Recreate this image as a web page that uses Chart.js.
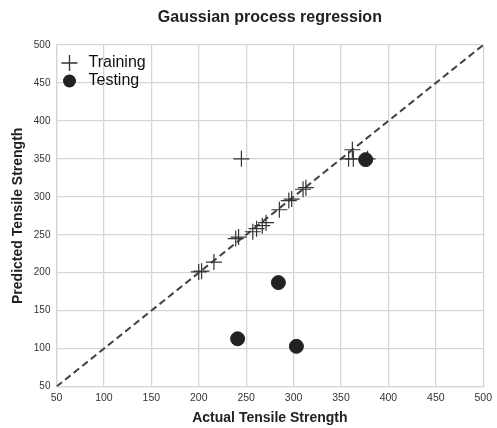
<!DOCTYPE html>
<html>
<head>
<meta charset="utf-8">
<script src="https://cdn.jsdelivr.net/npm/chart.js@4/dist/chart.umd.min.js"></script>
<style>
  html, body { margin: 0; padding: 0; background: #fff; }
  #wrap { width: 497px; height: 428px; }
</style>
</head>
<body>
<div id="wrap"><canvas id="chart" width="497" height="428"></canvas></div>
<script>
// Training set: actual vs predicted
const trainActual    = [200, 203, 216, 239, 242, 257, 261, 267, 271, 285, 295, 298, 310, 313, 245, 358, 362, 363, 378];
const trainPredicted = [201, 202, 214, 245, 247, 254, 258, 262, 266, 283, 295, 297, 310, 312, 350, 350, 362, 350, 350];

// Testing set
const testActual    = [284, 241, 303, 376];
const testPredicted = [187, 113, 103, 349];

// Ideal line y = x
const idealLine = [50, 500];

const tickValues = [50, 100, 150, 200, 250, 300, 350, 400, 450, 500];

const chartTitle = 'Gaussian process regression';
const legendLabels = ['Training', 'Testing'];

const toPoints = (xs, ys) => xs.map((x, i) => ({ x: x, y: ys[i] }));

const sans = "'Liberation Sans', Arial, sans-serif";

// title centred over the plot area + legend in the top-left corner of it
const decorations = {
  id: 'decorations',
  afterDraw(chart) {
    const c = chart.ctx;
    const area = chart.chartArea;
    c.save();
    c.fillStyle = '#222';
    c.textAlign = 'center';
    c.textBaseline = 'middle';
    c.font = 'bold 16px ' + sans;
    c.fillText(chartTitle, (area.left + area.right) / 2, 18);

    // legend
    const lx = area.left + 13;
    const y1 = area.top + 18;
    const y2 = area.top + 36;
    c.strokeStyle = '#333';
    c.lineWidth = 1.3;
    c.beginPath();
    c.moveTo(lx - 8, y1); c.lineTo(lx + 8, y1);
    c.moveTo(lx, y1 - 8); c.lineTo(lx, y1 + 8);
    c.stroke();
    c.fillStyle = '#222';
    c.beginPath();
    c.arc(lx, y2, 6.5, 0, Math.PI * 2);
    c.fill();
    c.fillStyle = '#111';
    c.textAlign = 'left';
    c.font = '16px ' + sans;
    c.fillText(legendLabels[0], lx + 19, y1);
    c.fillText(legendLabels[1], lx + 19, y2);
    c.restore();
  }
};

const ctx = document.getElementById('chart').getContext('2d');

new Chart(ctx, {
  type: 'scatter',
  data: {
    datasets: [
      {
        label: 'ideal',
        type: 'line',
        data: toPoints(idealLine, idealLine),
        borderColor: '#444',
        borderWidth: 2,
        borderDash: [7, 4],
        pointRadius: 0,
        fill: false,
        order: 3
      },
      {
        label: legendLabels[0],
        data: toPoints(trainActual, trainPredicted),
        pointStyle: 'cross',
        pointRadius: 8,
        borderColor: '#333',
        backgroundColor: '#333',
        borderWidth: 1.2,
        order: 2
      },
      {
        label: legendLabels[1],
        data: toPoints(testActual, testPredicted),
        pointStyle: 'circle',
        pointRadius: 7,
        borderColor: '#222',
        backgroundColor: '#222',
        borderWidth: 1,
        order: 1
      }
    ]
  },
  options: {
    responsive: false,
    animation: false,
    layout: { padding: { left: 10, right: 11, top: 45, bottom: 1 } },
    plugins: {
      title: { display: false },
      legend: { display: false },
      tooltip: { enabled: false }
    },
    scales: {
      x: {
        type: 'linear',
        min: 50,
        max: 500,
        afterBuildTicks: (axis) => { axis.ticks = tickValues.map(v => ({ value: v })); },
        grid: { color: '#d6d6d6', lineWidth: 1.3, drawTicks: false },
        border: { color: '#d6d6d6', width: 1.3 },
        ticks: {
          color: '#333',
          padding: 5,
          font: { family: sans, size: 10.5 }
        },
        title: {
          display: true,
          text: 'Actual Tensile Strength',
          color: '#222',
          padding: { top: 1, bottom: 0 },
          font: { family: sans, size: 14, weight: 'bold' }
        }
      },
      y: {
        type: 'linear',
        min: 50,
        max: 500,
        afterBuildTicks: (axis) => { axis.ticks = tickValues.map(v => ({ value: v })); },
        grid: { color: '#d6d6d6', lineWidth: 1.3, drawTicks: false },
        border: { color: '#d6d6d6', width: 1.3 },
        ticks: {
          color: '#333',
          padding: 6,
          font: { family: sans, size: 10 }
        },
        title: {
          display: true,
          text: 'Predicted Tensile Strength',
          color: '#222',
          padding: { top: 0, bottom: 1 },
          font: { family: sans, size: 14, weight: 'bold' }
        }
      }
    }
  },
  plugins: [decorations]
});
</script>
</body>
</html>
